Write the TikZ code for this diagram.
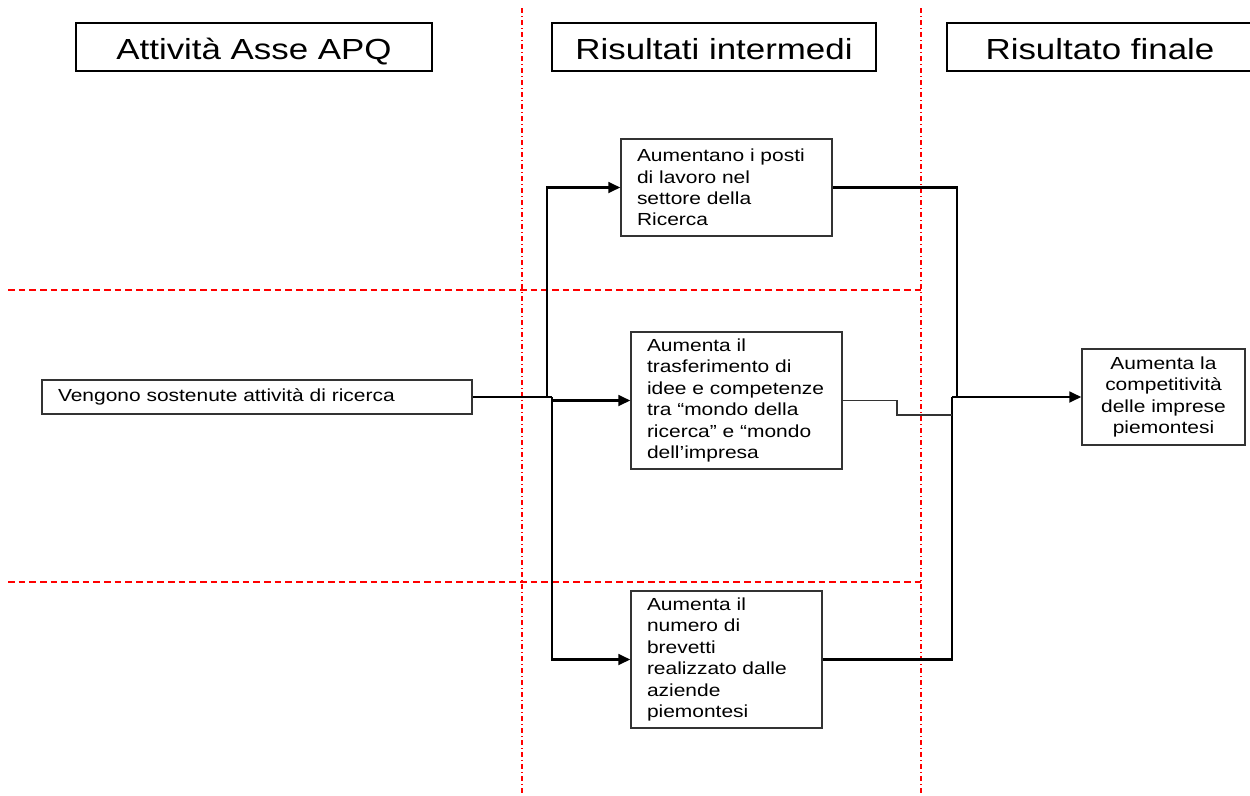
\documentclass[tikz,border=0pt]{standalone}
\usepackage{fontspec}
\setmainfont[FakeStretch=1.2]{Liberation Sans}
\usepackage{tikz}
\usetikzlibrary{arrows.meta}

\begin{document}
\begin{tikzpicture}[
                x=0.75pt, y=-0.75pt,
                title/.style={draw, line width=1.5pt, minimum height=36pt, inner sep=0pt,
                              text height=18pt, text depth=0pt,
                              font=\fontsize{21.8}{26}\selectfont},
                box/.style={draw=black!80, line width=1pt, align=left, inner xsep=12pt,
                            font=\fontsize{13.1}{16.1}\selectfont},
                guidev/.style={red, line width=1pt, dash pattern=on 4pt off 2pt on 1pt off 2pt},
                guideh/.style={red, line width=1.2pt, dash pattern=on 5pt off 3pt},
                link/.style={line width=2pt},
                edge/.style={-{Triangle[length=9pt, width=8pt]}, line width=2pt},
                weak/.style={draw=black!80, line width=0.8pt},
            ]
            \useasboundingbox (0,0) rectangle (1250,796);

            % Guide lines
            \draw[guidev] (522,8) -- (522,796);
            \draw[guidev] (921,8) -- (921,796);
            \draw[guideh] (8,290) -- (921,290);
            \draw[guideh] (8,582) -- (921,582);

            % Column titles
            \node[title, minimum width=267pt] (hAct) at (254,47) {Attività Asse APQ};
            \node[title, minimum width=243pt] (hInt) at (714,47) {Risultati intermedi};
            \node[title, minimum width=229.5pt] (hFin) at (1100,47) {Risultato finale};

            % Boxes
            \node[box, text width=298.5pt, minimum height=25.5pt] (act) at (257,397)
                {Vengono sostenute attività di ricerca};
            \node[box, text width=134.25pt, minimum height=72.75pt] (intA) at (726.5,187.5)
                {Aumentano i posti\\di lavoro nel\\settore della\\Ricerca};
            \node[box, text width=134.25pt, minimum height=102.75pt] (intB) at (736.5,400.5)
                {Aumenta il\\trasferimento di\\idee e competenze\\tra “mondo della\\ricerca” e “mondo\\dell’impresa};
            \node[box, text width=119.25pt, minimum height=102.75pt] (intC) at (726.5,659.5)
                {Aumenta il\\numero di\\brevetti\\realizzato dalle\\aziende\\piemontesi};
            \node[box, align=center, inner xsep=0pt, text width=122.25pt, minimum height=72pt] (fin) at (1163.5,397)
                {Aumenta la\\competitività\\delle imprese\\piemontesi};

            % Junctions
            \coordinate (split) at (552,397);
            \coordinate (up) at (547,397);
            \coordinate (mergeup) at (957,397);
            \coordinate (merge) at (952,397);
            \coordinate (stepB) at (897,415);

            % Connections
            \draw[link] (act.east) -- (split);
            \draw[edge] (up) |- (intA.west);
            \draw[edge] (split) |- (intB.west);
            \draw[edge] (split) |- (intC.west);
            \draw[link] (intA.east) -| (mergeup) -- (merge);
            \draw[link] (intC.east) -| (merge);
            \draw[weak] (intB.east) -| (stepB) -- (stepB -| merge);
            \draw[edge] (merge) -- (fin.west);

\end{tikzpicture}
\end{document}
